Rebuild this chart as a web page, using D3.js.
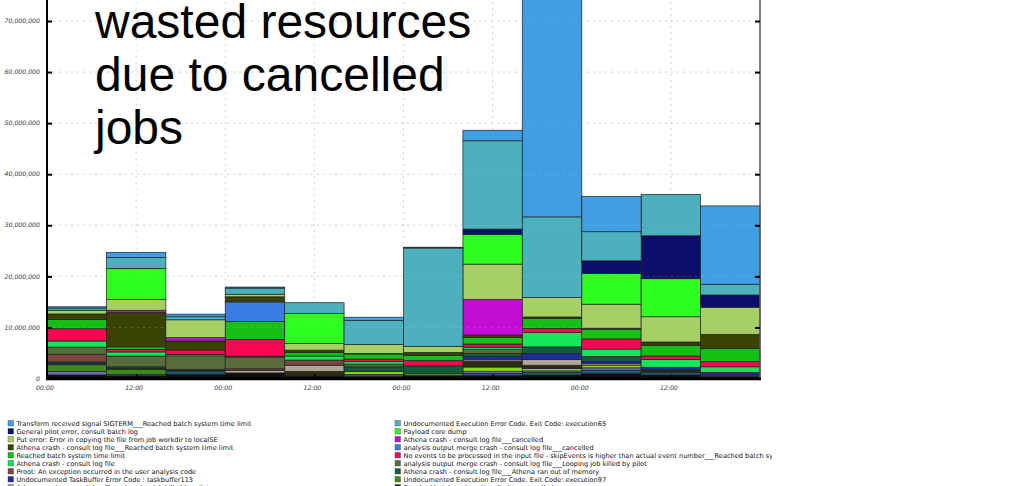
<!DOCTYPE html>
<html>
<head>
<meta charset="utf-8">
<script src="https://cdn.jsdelivr.net/npm/d3@7"></script>
<style>
  html, body { margin: 0; padding: 0; background: #fff; }
  svg { display: block; }
</style>
</head>
<body>
<svg id="chart" width="1017" height="486"></svg>
<script>
// Start of each 8-hour bin (UTC)
const binStarts = [
  "2015-01-12T00:00Z", "2015-01-12T08:00Z", "2015-01-12T16:00Z",
  "2015-01-13T00:00Z", "2015-01-13T08:00Z", "2015-01-13T16:00Z",
  "2015-01-14T00:00Z", "2015-01-14T08:00Z", "2015-01-14T16:00Z",
  "2015-01-15T00:00Z", "2015-01-15T08:00Z", "2015-01-15T16:00Z"
];

// Wasted resources per error category and bin, in millions
const sigtermBatchLimit   = [0.25, 1.0, 0.5, 0.2, 0, 0.65, 0.15, 2.05, 50.3, 6.9, 0, 15.35];
const execution65         = [0.45, 2.15, 0.6, 1.2, 2.1, 4.7, 19.25, 17.3, 15.8, 5.7, 8.1, 2.1];
const generalPilotError   = [0, 0, 0, 0, 0, 0, 0, 1.05, 0, 2.5, 8.4, 2.4];
const payloadCoreDump     = [0, 6.1, 0, 0, 5.9, 0, 0, 5.8, 0, 6.0, 7.45, 0];
const putError            = [0.7, 2.1, 3.5, 0.5, 1.3, 1.75, 1.2, 6.9, 3.8, 4.7, 4.95, 5.3];
const athenaCancelled     = [0, 0.45, 0.65, 0, 0, 0, 0, 7.0, 0, 0, 0, 0];
const athenaBatchLimit    = [1.1, 6.7, 1.75, 1.0, 0.45, 0.1, 0.6, 0.45, 0.25, 0.2, 0.65, 2.8];
const mergeCancelled      = [0, 0, 0, 3.85, 0, 0, 0, 0, 0, 0, 0, 0];
const batchLimit          = [1.8, 0.5, 0, 3.5, 0.7, 1.0, 1.0, 1.3, 2.0, 1.9, 2.1, 2.55];
const noEventsBatchLimit  = [2.4, 0.5, 0.9, 3.3, 0, 0.5, 1.0, 0.65, 0.8, 2.0, 0.65, 1.0];
const athenaCrash         = [1.2, 0.8, 0.25, 0.15, 0.8, 0.5, 0, 0.4, 2.8, 1.45, 1.55, 1.1];
const mergeLooping        = [1.4, 2.1, 2.7, 2.3, 0, 0.5, 0, 0.8, 0, 0, 0, 0];
const prootException      = [1.5, 0, 0, 0.3, 1.0, 0, 0, 0, 0, 0, 0, 0];
const athenaOutOfMemory   = [0.3, 0.3, 0, 0, 0, 0.9, 1.6, 0.6, 1.3, 1.0, 0, 0];
const taskbuffer113       = [0.25, 0.2, 0, 0, 0, 0, 0, 0.65, 1.2, 0.4, 0.5, 0.5];
const execution97         = [1.3, 1.0, 0, 0, 0, 0, 0, 0, 0, 0, 0, 0];
const athenaLooping       = [0, 0, 0, 0.5, 1.2, 0, 0, 0.3, 1.1, 0.3, 0, 0];
const reachedCancelled    = [0, 0, 0.3, 0, 0.9, 0, 0, 1.1, 0.65, 0, 0.5, 0];
const athenaNoEvents      = [0, 0.2, 0, 0, 0, 0.6, 0.3, 0.85, 0.45, 0.5, 0, 0];
const mergeOutOfMemory    = [0.7, 0, 0, 0, 0, 0, 0, 0.4, 0.3, 0.5, 0, 0];
const lostHeartbeat       = [0, 0, 0.6, 0, 0, 0.4, 0, 0.4, 0.5, 0.6, 0.5, 0.3];
const otherErrors         = [0.7, 0.6, 0.85, 1.1, 0.5, 0.4, 0.6, 0.6, 0.7, 1.0, 0.7, 0.4];

// Category labels, listed from the top of each stack downwards
const seriesLabels = [
  "Transform received signal SIGTERM___Reached batch system time limit",
  "Undocumented Execution Error Code. Exit Code: execution65",
  "General pilot error, consult batch log",
  "Payload core dump",
  "Put error: Error in copying the file from job workdir to localSE",
  "Athena crash - consult log file___cancelled",
  "Athena crash - consult log file___Reached batch system time limit",
  "analysis output merge crash - consult log file___cancelled",
  "Reached batch system time limit",
  "No events to be processed in the input file - skipEvents is higher than actual event number___Reached batch system time limit",
  "Athena crash - consult log file",
  "analysis output merge crash - consult log file___Looping job killed by pilot",
  "Proot: An exception occurred in the user analysis code",
  "Athena crash - consult log file___Athena ran out of memory",
  "Undocumented TaskBuffer Error Code        : taskbuffer113",
  "Undocumented Execution Error Code. Exit Code: execution97",
  "Athena crash - consult log file___Looping job killed by pilot",
  "Reached batch system time limit___cancelled",
  "Athena crash - consult log file___No events to be processed",
  "analysis output merge crash - consult log file___Athena ran out of memory",
  "Lost heartbeat",
  "Other errors"
];
const seriesValues = [
  sigtermBatchLimit, execution65, generalPilotError, payloadCoreDump, putError,
  athenaCancelled, athenaBatchLimit, mergeCancelled, batchLimit, noEventsBatchLimit,
  athenaCrash, mergeLooping, prootException, athenaOutOfMemory, taskbuffer113,
  execution97, athenaLooping, reachedCancelled, athenaNoEvents, mergeOutOfMemory,
  lostHeartbeat, otherErrors
];

const yTicks = [0, 10, 20, 30, 40, 50, 60, 70];

// Fill colours, same order as the labels
const seriesColors = [
  "#3f9fe2", "#4cb1bc", "#0b0f6a", "#2eff20", "#a6d066", "#c20ed2",
  "#3a4200", "#3a7ce2", "#13c013", "#fa0652", "#12e65c", "#5b6c3c",
  "#7c4541", "#0f5b3a", "#1e2c9e", "#3b8b1b", "#b0a895", "#2c2c14",
  "#8ad612", "#6d6db0", "#1b5e7c", "#0d0d0d"
];

const svg = d3.select("#chart");
const BIN_MS = 8 * 3600e3;
const starts = binStarts.map(s => new Date(s));
const tStart = starts[0];
const tEnd = new Date(+starts[starts.length - 1] + BIN_MS);

const plot = { left: 47, right: 760, bottom: 378.5 };
const x = d3.scaleUtc().domain([tStart, tEnd]).range([plot.left, plot.right]);
const y = d3.scaleLinear().domain([0, 90]).range([plot.bottom, plot.bottom - 90 * 5.107]);

// Stack with the first category on top: stack in reverse label order
const keys = d3.range(seriesValues.length).reverse();
const rows = starts.map((t, i) => {
  const r = { t };
  seriesValues.forEach((arr, k) => { r[k] = arr[i]; });
  return r;
});
const stacked = d3.stack().keys(keys)(rows);

const timeTicks = x.ticks(d3.utcHour.every(12)).filter(t => +t < +tEnd);

// Dotted grid behind the bars
const gridG = svg.append("g").attr("stroke", "#d2d2d2").attr("stroke-width", 1).attr("stroke-dasharray", "2,4");
gridG.selectAll("line.h").data(yTicks.filter(d => d > 0)).join("line")
  .attr("x1", plot.left).attr("x2", plot.right)
  .attr("y1", d => y(d)).attr("y2", d => y(d));
gridG.selectAll("line.v").data(timeTicks.filter(t => +t > +tStart)).join("line")
  .attr("x1", d => x(d)).attr("x2", d => x(d))
  .attr("y1", -10).attr("y2", plot.bottom);

// Bars
const barsG = svg.append("g");
stacked.forEach(layer => {
  const k = layer.key;
  barsG.append("g").attr("fill", seriesColors[k])
    .selectAll("rect").data(layer.filter(d => d[1] - d[0] > 0)).join("rect")
    .attr("x", d => x(d.data.t))
    .attr("width", d => x(new Date(+d.data.t + BIN_MS)) - x(d.data.t))
    .attr("y", d => y(d[1]))
    .attr("height", d => y(d[0]) - y(d[1]))
    .attr("stroke", "#1c1c1c").attr("stroke-width", 0.8).attr("stroke-opacity", 0.85);
});

// Faint grid over the bars
const overG = svg.append("g").attr("stroke", "#d8d8d8").attr("stroke-opacity", 0.25).attr("stroke-dasharray", "2,4");
overG.selectAll("line").data(yTicks.filter(d => d > 0)).join("line")
  .attr("x1", plot.left).attr("x2", plot.right)
  .attr("y1", d => y(d)).attr("y2", d => y(d));

// Frame
svg.append("line").attr("x1", plot.right).attr("x2", plot.right).attr("y1", -5).attr("y2", plot.bottom + 1)
  .attr("stroke", "#555").attr("stroke-width", 1.5);
svg.append("line").attr("x1", plot.left).attr("x2", plot.left).attr("y1", -5).attr("y2", plot.bottom + 1.5)
  .attr("stroke", "#000").attr("stroke-width", 2);
svg.append("line").attr("x1", plot.left - 1).attr("x2", plot.right + 1).attr("y1", plot.bottom + 0.5).attr("y2", plot.bottom + 0.5)
  .attr("stroke", "#000").attr("stroke-width", 2.5);

// Left and right value axes, ticks pointing inwards
const fmt = d => d3.format(",")(d * 1e6);
const leftAxis = svg.append("g").attr("transform", `translate(${plot.left},0)`)
  .call(d3.axisRight(y).tickValues(yTicks).tickSize(5).tickFormat(""));
leftAxis.select(".domain").remove();
leftAxis.selectAll(".tick line").attr("stroke", "#000").attr("stroke-width", 2);
svg.append("g").selectAll("text").data(yTicks).join("text")
  .attr("x", 40).attr("y", d => y(d)).attr("dy", "0.35em")
  .attr("text-anchor", "end")
  .attr("font-family", "DejaVu Sans, sans-serif").attr("font-style", "italic")
  .attr("font-size", 6.2).attr("fill", "#3a3a3a")
  .text(fmt);

const rightAxis = svg.append("g").attr("transform", `translate(${plot.right},0)`)
  .call(d3.axisLeft(y).tickValues(yTicks.filter(d => d > 0)).tickSize(5).tickFormat(""));
rightAxis.select(".domain").remove();
rightAxis.selectAll(".tick line").attr("stroke", "#000").attr("stroke-width", 2);

// Time axis
const xAxis = svg.append("g").attr("transform", `translate(0,${plot.bottom})`)
  .call(d3.axisTop(x).tickValues(timeTicks).tickSize(4).tickFormat(""));
xAxis.select(".domain").remove();
xAxis.selectAll(".tick line").attr("stroke", "#000").attr("stroke-width", 2);
svg.append("g").selectAll("text").data(timeTicks).join("text")
  .attr("x", d => x(d) - 2).attr("y", 389.5)
  .attr("text-anchor", "middle")
  .attr("font-family", "DejaVu Sans, sans-serif").attr("font-style", "italic")
  .attr("font-size", 6.2).attr("fill", "#3a3a3a")
  .text(d3.utcFormat("%H:%M"));

// Title lines over the plot
const titleLines = ["wasted resources", "due to cancelled", "jobs"];
svg.append("g").selectAll("text").data(titleLines).join("text")
  .attr("x", 95).attr("y", (d, i) => 38 + i * 53)
  .attr("font-family", "Liberation Sans, Arial, sans-serif")
  .attr("font-size", 48).attr("fill", "#000")
  .text(d => d);

// Legend: two columns filled row by row, clipped to the chart width
svg.append("defs").append("clipPath").attr("id", "legend-clip")
  .append("rect").attr("x", 0).attr("y", 400).attr("width", 772).attr("height", 100);
const legend = svg.append("g").attr("clip-path", "url(#legend-clip)");
const legendItems = legend.selectAll("g").data(seriesLabels.map((s, i) => ({ s, i }))).join("g")
  .attr("transform", d => `translate(${d.i % 2 === 0 ? 8 : 395},${423.5 + Math.floor(d.i / 2) * 8})`);
legendItems.append("rect")
  .attr("x", 0).attr("y", -3).attr("width", 5.5).attr("height", 5.5)
  .attr("fill", d => seriesColors[d.i]).attr("stroke", "#444").attr("stroke-width", 0.4);
legendItems.append("text")
  .attr("x", 8.5).attr("y", 0).attr("dy", "0.33em")
  .attr("font-family", "DejaVu Sans, sans-serif").attr("font-size", 6.6).attr("fill", "#111")
  .text(d => d.s);
</script>
</body>
</html>
